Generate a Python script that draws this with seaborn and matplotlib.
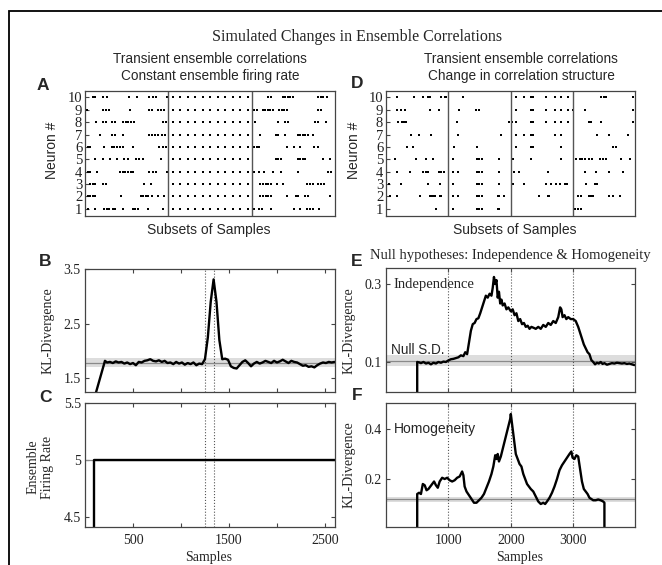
import numpy as np
import pandas as pd
import matplotlib
matplotlib.use("Agg")
import matplotlib.pyplot as plt
import seaborn as sns
from matplotlib.patches import Rectangle

# ---------------- data ----------------
# rasters: spike positions inside each subset (0-100), rows listed neuron 10 -> neuron 1
A_seg1 = [[9, 12, 22, 26, 53, 62, 77, 81, 85, 98],
          [2, 22, 25, 29, 54, 77, 80, 87, 91, 95],
          [13, 21, 25, 32, 36, 46, 49, 52, 55, 59, 94, 97],
          [18, 32, 36, 46, 77, 80, 84, 88, 92, 96],
          [3, 6, 23, 32, 35, 38, 42, 45, 58, 89, 93, 97],
          [12, 22, 30, 38, 47, 51, 61, 65, 69, 91],
          [3, 6, 14, 42, 45, 48, 51, 55, 58, 77, 81, 85, 98],
          [6, 9, 12, 21, 25, 71, 79],
          [3, 6, 9, 12, 43, 67, 70, 73, 76, 80, 87, 95],
          [3, 12, 23, 26, 29, 33, 36, 45, 57, 60, 63, 75, 93]]
A_sync = [5, 14, 23, 32, 41, 50, 59, 68, 77, 86, 95]
A_seg2 = [A_sync] * 10
A_seg3 = [[19, 23, 37, 40, 43, 46, 49, 80, 83, 86, 90],
          [3, 6, 13, 16, 19, 22, 26, 33, 36, 39, 42, 80, 83],
          [4, 32, 40, 43, 76, 79, 89],
          [10, 29, 32, 40, 55, 58, 61, 64, 67, 74],
          [3, 6, 9, 42, 51, 58, 75, 79],
          [29, 32, 35, 55, 58, 61, 64, 86, 94],
          [3, 9, 15, 25, 35, 55, 92, 95],
          [10, 13, 17, 20, 23, 30, 37, 66, 70, 73, 80, 83, 87],
          [10, 13, 17, 20, 23, 42, 53, 56, 64, 68, 94],
          [3, 9, 12, 23, 51, 58, 66, 70, 73, 81]]

D_seg1 = [[17, 45, 59, 68, 70, 88, 95, 97],
          [17, 24, 30, 71, 85],
          [19, 25, 29, 32],
          [40, 53, 73],
          [33, 44],
          [14, 48, 64, 76],
          [17, 39, 60, 64, 68, 85, 89, 93],
          [5, 24, 67, 86],
          [6, 17, 55, 71, 73, 76, 78, 86, 88],
          [81]]
D_seg2 = [[24],
          [17, 45, 49],
          [14, 98],
          [16, 84],
          [9, 46],
          [7, 46, 50, 55, 81],
          [7, 16, 46, 50, 55, 81],
          [7, 46, 50, 55, 81],
          [7, 16, 46, 50, 55, 80, 82, 90],
          [7, 46, 50, 55, 80, 82]]
D_seg3 = [[9, 21, 33, 36, 57, 71, 81, 92],
          [9, 33, 36, 57, 71, 81, 92],
          [3, 9, 33, 36, 57, 71, 81, 92],
          [9, 21, 33, 36, 71, 81],
          [9, 33, 36, 81],
          [4, 33, 81],
          [5, 14, 60],
          [4, 22, 57, 65, 73, 79, 87, 90],
          [45, 60, 62],
          []]
D_seg4 = [[46, 50, 54, 96],
          [1, 19, 97],
          [26, 30, 46, 97],
          [39, 59, 89],
          [65, 69],
          [6, 11, 15, 19, 26, 31, 43, 48, 53, 78, 92],
          [19, 38, 59, 80],
          [21, 35, 39],
          [9, 14, 26, 29, 32, 59, 64, 76],
          [4, 8, 14]]

# panel B: KL-divergence, constant rate case
B_x = [111, 208, 230, 260, 290, 320, 350, 380, 410, 440, 470, 500, 530, 560, 590,
       620, 650, 680, 710, 740, 770, 800, 830, 860, 890, 920, 950, 980, 1010, 1040,
       1070, 1100, 1130, 1160, 1190, 1220, 1250, 1280, 1310, 1340, 1370, 1400, 1430,
       1460, 1490, 1520, 1550, 1580, 1610, 1640, 1670, 1700, 1730, 1760, 1790, 1820,
       1850, 1880, 1910, 1940, 1970, 2000, 2030, 2060, 2090, 2120, 2150, 2180, 2210,
       2240, 2270, 2300, 2330, 2360, 2390, 2420, 2450, 2480, 2510, 2540, 2570, 2600]
B_y = [1.22, 1.82, 1.79, 1.80, 1.78, 1.81, 1.79, 1.80, 1.77, 1.79, 1.76, 1.78, 1.74,
       1.80, 1.79, 1.82, 1.83, 1.85, 1.82, 1.81, 1.83, 1.80, 1.82, 1.78, 1.79, 1.76,
       1.80, 1.77, 1.79, 1.75, 1.78, 1.76, 1.79, 1.74, 1.77, 1.76, 1.85, 2.25, 2.90,
       3.31, 2.90, 2.20, 1.85, 1.86, 1.84, 1.72, 1.69, 1.68, 1.74, 1.80, 1.83, 1.78,
       1.72, 1.77, 1.80, 1.77, 1.79, 1.82, 1.80, 1.78, 1.82, 1.79, 1.81, 1.84, 1.81,
       1.78, 1.82, 1.80, 1.79, 1.76, 1.73, 1.74, 1.71, 1.72, 1.70, 1.74, 1.77, 1.79,
       1.78, 1.80, 1.79, 1.80]
B_null = (1.70, 1.78, 1.87)

# panel C: ensemble firing rate
C_x = [95, 95, 2600]
C_y = [4.3, 5.0, 5.0]
C_null = 5.0

# panel E: independence null
E_x = [500, 500, 530, 560, 600, 640, 680, 720, 760, 800, 840, 880, 920, 960, 1000,
       1040, 1080, 1120, 1160, 1200, 1240, 1270, 1300, 1330, 1360, 1390, 1420, 1450,
       1480, 1510, 1540, 1570, 1600, 1630, 1660, 1690, 1710, 1730, 1750, 1770, 1790,
       1810, 1830, 1850, 1870, 1900, 1930, 1960, 2000, 2030, 2060, 2090, 2120, 2150,
       2180, 2210, 2240, 2270, 2300, 2330, 2360, 2400, 2440, 2480, 2520, 2560, 2600,
       2640, 2680, 2720, 2760, 2790, 2810, 2830, 2860, 2890, 2920, 2960, 3000, 3040,
       3080, 3110, 3140, 3170, 3200, 3230, 3260, 3290, 3320, 3350, 3380, 3410, 3440,
       3470, 3500, 3540, 3580, 3620, 3660, 3700, 3740, 3780, 3820, 3860, 3900, 3940, 3980]
E_y = [0.0, 0.100, 0.099, 0.097, 0.100, 0.096, 0.098, 0.094, 0.098, 0.096, 0.100,
       0.098, 0.101, 0.100, 0.104, 0.107, 0.108, 0.110, 0.112, 0.117, 0.115, 0.125,
       0.120, 0.150, 0.180, 0.197, 0.200, 0.210, 0.212, 0.225, 0.240, 0.255, 0.270,
       0.265, 0.275, 0.270, 0.290, 0.318, 0.300, 0.310, 0.265, 0.280, 0.250, 0.260,
       0.245, 0.250, 0.235, 0.240, 0.230, 0.235, 0.220, 0.225, 0.205, 0.210, 0.197,
       0.200, 0.190, 0.193, 0.185, 0.190, 0.188, 0.185, 0.190, 0.185, 0.195, 0.190,
       0.200, 0.195, 0.205, 0.200, 0.215, 0.240, 0.235, 0.215, 0.220, 0.210, 0.215,
       0.210, 0.210, 0.205, 0.190, 0.175, 0.160, 0.145, 0.135, 0.125, 0.120, 0.105,
       0.100, 0.094, 0.098, 0.096, 0.100, 0.095, 0.097, 0.093, 0.095, 0.097, 0.096,
       0.098, 0.097, 0.096, 0.097, 0.095, 0.096, 0.094, 0.092]
E_null = (0.090, 0.102, 0.117)

# panel F: homogeneity null
F_x = [500, 500, 530, 560, 590, 620, 650, 680, 710, 740, 770, 800, 830, 860, 900,
       940, 980, 1020, 1060, 1100, 1140, 1180, 1220, 1240, 1260, 1290, 1330, 1370,
       1410, 1450, 1490, 1530, 1570, 1610, 1650, 1690, 1720, 1750, 1770, 1790, 1810,
       1840, 1870, 1900, 1930, 1960, 1990, 2000, 2020, 2050, 2080, 2110, 2140, 2170,
       2200, 2230, 2260, 2290, 2320, 2360, 2400, 2440, 2480, 2520, 2550, 2580, 2620,
       2660, 2700, 2740, 2780, 2820, 2860, 2900, 2940, 2970, 2990, 3020, 3050, 3080,
       3110, 3140, 3170, 3200, 3230, 3260, 3290, 3320, 3360, 3400, 3440, 3480, 3500, 3500]
F_y = [0.0, 0.140, 0.145, 0.140, 0.180, 0.175, 0.155, 0.160, 0.170, 0.180, 0.190,
       0.175, 0.165, 0.190, 0.205, 0.200, 0.205, 0.195, 0.190, 0.195, 0.205, 0.210,
       0.230, 0.215, 0.170, 0.150, 0.135, 0.120, 0.105, 0.105, 0.115, 0.125, 0.140,
       0.165, 0.190, 0.220, 0.250, 0.295, 0.280, 0.300, 0.270, 0.290, 0.320, 0.350,
       0.380, 0.410, 0.440, 0.460, 0.420, 0.360, 0.300, 0.280, 0.260, 0.250, 0.220,
       0.200, 0.180, 0.170, 0.160, 0.150, 0.130, 0.110, 0.100, 0.105, 0.100, 0.110,
       0.125, 0.145, 0.170, 0.200, 0.235, 0.255, 0.270, 0.285, 0.300, 0.310, 0.285,
       0.280, 0.295, 0.290, 0.240, 0.190, 0.160, 0.150, 0.140, 0.125, 0.120, 0.115,
       0.115, 0.118, 0.115, 0.110, 0.105, 0.0]
F_null = (0.110, 0.120, 0.130)

# ---------------- style ----------------
sns.set_theme(style="ticks", rc={"xtick.direction": "in", "ytick.direction": "in"})
plt.rcParams["font.family"] = ["Liberation Serif", "DejaVu Serif"]
SANS = ["Liberation Sans", "DejaVu Sans"]
SERIF = ["Liberation Serif", "DejaVu Serif"]
EDGE = "#444444"

W, H = 662, 565
fig = plt.figure(figsize=(W / 100, H / 100), dpi=100)


def box(x0, y0, x1, y1):
    # pixel box -> figure axes
    return fig.add_axes([x0 / W, 1 - y1 / H, (x1 - x0) / W, (y1 - y0) / H])


def ftext(x, y, s, **kw):
    fig.text(x / W, 1 - y / H, s, **kw)


def style_axes(ax):
    for sp in ax.spines.values():
        sp.set_color(EDGE)
        sp.set_linewidth(0.9)
    ax.tick_params(which="both", top=True, right=True, length=3, width=0.8,
                   color=EDGE, labelsize=10, pad=3, labelcolor="#222222")
    for lab in ax.get_xticklabels() + ax.get_yticklabels():
        lab.set_family(SERIF)


def raster(ax, segments, n_seg):
    rows = []
    for k, seg in enumerate(segments):
        for i, spikes in enumerate(seg):
            neuron = 10 - i
            for s in spikes:
                rows.append((k * 100 + s, neuron))
    df = pd.DataFrame(rows, columns=["pos", "neuron"])
    sns.scatterplot(data=df, x="pos", y="neuron", marker="s", s=2.2,
                    color="black", linewidth=0, ax=ax, legend=False)
    for k in range(1, n_seg):
        ax.axvline(k * 100, color="#555555", lw=1.0)
    ax.set_xlim(0, n_seg * 100)
    ax.set_ylim(0.42, 10.52)
    ax.set_yticks(range(1, 11))
    ax.set_xticks([])
    ax.set_xlabel("")
    ax.set_ylabel("")
    style_axes(ax)
    ax.tick_params(axis="y", right=False, pad=2, labelsize=10.5)
    for lab in ax.get_yticklabels():
        lab.set_family(SERIF)


def kl_line(ax, x, y):
    df = pd.DataFrame({"x": x, "y": y})
    sns.lineplot(data=df, x="x", y="y", sort=False, estimator=None,
                 color="black", lw=1.7, ax=ax)
    ax.set_xlabel("")
    ax.set_ylabel("")


def band(ax, lo, mid, hi):
    ax.axhspan(lo, hi, color="#dddddd", lw=0, zorder=0)
    ax.axhline(mid, color="#8a8a8a", lw=0.9, zorder=1)


# outer frame
fig.patches.append(Rectangle((9 / W, -0.05), 1.2, 1 - 11 / H + 0.05,
                             transform=fig.transFigure, fill=False,
                             edgecolor="black", lw=1.3))

ftext(357, 37, "Simulated Changes in Ensemble Correlations", ha="center",
      va="center", fontsize=11.5, family=SERIF)

# ---- A ----
axA = box(85, 91, 335, 216)
raster(axA, [A_seg1, A_seg2, A_seg3], 3)
ftext(210, 59, "Transient ensemble correlations", ha="center", va="center",
      fontsize=9.8, family=SANS)
ftext(210, 76, "Constant ensemble firing rate", ha="center", va="center",
      fontsize=9.8, family=SANS)
ftext(209, 230, "Subsets of Samples", ha="center", va="center", fontsize=10,
      family=SANS)
ftext(52, 150, "Neuron #", rotation=90, ha="center", va="center",
      fontsize=10, family=SANS)

# ---- D ----
axD = box(386, 91, 635, 216)
raster(axD, [D_seg1, D_seg2, D_seg3, D_seg4], 4)
ftext(521, 59, "Transient ensemble correlations", ha="center", va="center",
      fontsize=9.8, family=SANS)
ftext(521, 76, "Change in correlation structure", ha="center", va="center",
      fontsize=9.8, family=SANS)
ftext(515, 230, "Subsets of Samples", ha="center", va="center", fontsize=10,
      family=SANS)
ftext(354, 150, "Neuron #", rotation=90, ha="center", va="center",
      fontsize=10, family=SANS)

# ---- B ----
axB = box(85, 269, 335, 392)
band(axB, *B_null)
for v in (1250, 1345):
    axB.axvline(v, color="#555555", ls=":", lw=0.8)
kl_line(axB, B_x, B_y)
axB.set_xlim(0, 2605)
axB.set_ylim(1.25, 3.5)
axB.set_yticks([1.5, 2.5, 3.5])
axB.set_xticks([500, 1000, 1500, 2000, 2500])
axB.set_xticklabels([])
style_axes(axB)
ftext(48, 331, "KL-Divergence", rotation=90, ha="center", va="center",
      fontsize=10, family=SERIF)

# ---- C ----
axC = box(85, 403, 335, 527)
axC.axhline(C_null, color="#8a8a8a", lw=0.9, zorder=1)
for v in (1250, 1345):
    axC.axvline(v, color="#555555", ls=":", lw=0.8)
kl_line(axC, C_x, C_y)
axC.set_xlim(0, 2605)
axC.set_ylim(4.41, 5.5)
axC.set_yticks([4.5, 5, 5.5])
axC.set_yticklabels(["4.5", "5", "5.5"])
axC.set_xticks([500, 1000, 1500, 2000, 2500])
axC.set_xticklabels(["500", "", "1500", "", "2500"])
style_axes(axC)
axC.tick_params(axis="x", pad=5)
ftext(40, 467, "Ensemble\nFiring Rate", rotation=90, ha="center", va="center",
      fontsize=10, family=SERIF, linespacing=1.1)
ftext(209, 558, "Samples", ha="center", va="center", fontsize=10, family=SERIF)

# ---- E ----
axE = box(386, 268, 635, 392)
band(axE, *E_null)
for v in (1000, 2000, 3000):
    axE.axvline(v, color="#555555", ls=":", lw=0.8)
kl_line(axE, E_x, E_y)
axE.set_xlim(0, 3990)
axE.set_ylim(0.023, 0.341)
axE.set_yticks([0.1, 0.3])
axE.set_yticklabels(["0.1", "0.3"])
axE.set_xticks([1000, 2000, 3000])
axE.set_xticklabels([])
style_axes(axE)
axE.text(0.032, 0.87, "Independence", transform=axE.transAxes, ha="left",
         va="center", fontsize=10.5, family=SERIF)
axE.text(0.02, 0.34, "Null S.D.", transform=axE.transAxes, ha="left",
         va="center", fontsize=9.8, family=SANS)
ftext(510, 255, "Null hypotheses: Independence & Homogeneity", ha="center",
      va="center", fontsize=10.5, family=SERIF)
ftext(349, 331, "KL-Divergence", rotation=90, ha="center", va="center",
      fontsize=10, family=SERIF)

# ---- F ----
axF = box(386, 403, 635, 527)
band(axF, *F_null)
for v in (1000, 2000, 3000):
    axF.axvline(v, color="#555555", ls=":", lw=0.8)
kl_line(axF, F_x, F_y)
axF.set_xlim(0, 3990)
axF.set_ylim(0.008, 0.504)
axF.set_yticks([0.2, 0.4])
axF.set_yticklabels(["0.2", "0.4"])
axF.set_xticks([1000, 2000, 3000])
axF.set_xticklabels(["1000", "2000", "3000"])
style_axes(axF)
axF.tick_params(axis="x", pad=5)
axF.text(0.032, 0.79, "Homogeneity", transform=axF.transAxes, ha="left",
         va="center", fontsize=10, family=SANS)
ftext(349, 465, "KL-Divergence", rotation=90, ha="center", va="center",
      fontsize=10, family=SERIF)
ftext(520, 558, "Samples", ha="center", va="center", fontsize=10, family=SERIF)

# panel letters
for letter, x, y in [("A", 43, 86), ("B", 45, 262), ("C", 45, 397),
                     ("D", 357, 83), ("E", 357, 262), ("F", 357, 395)]:
    ftext(x, y, letter, ha="center", va="center", fontsize=12.5,
          fontweight="bold", family=SANS)

fig.savefig("out.png", dpi=100)
